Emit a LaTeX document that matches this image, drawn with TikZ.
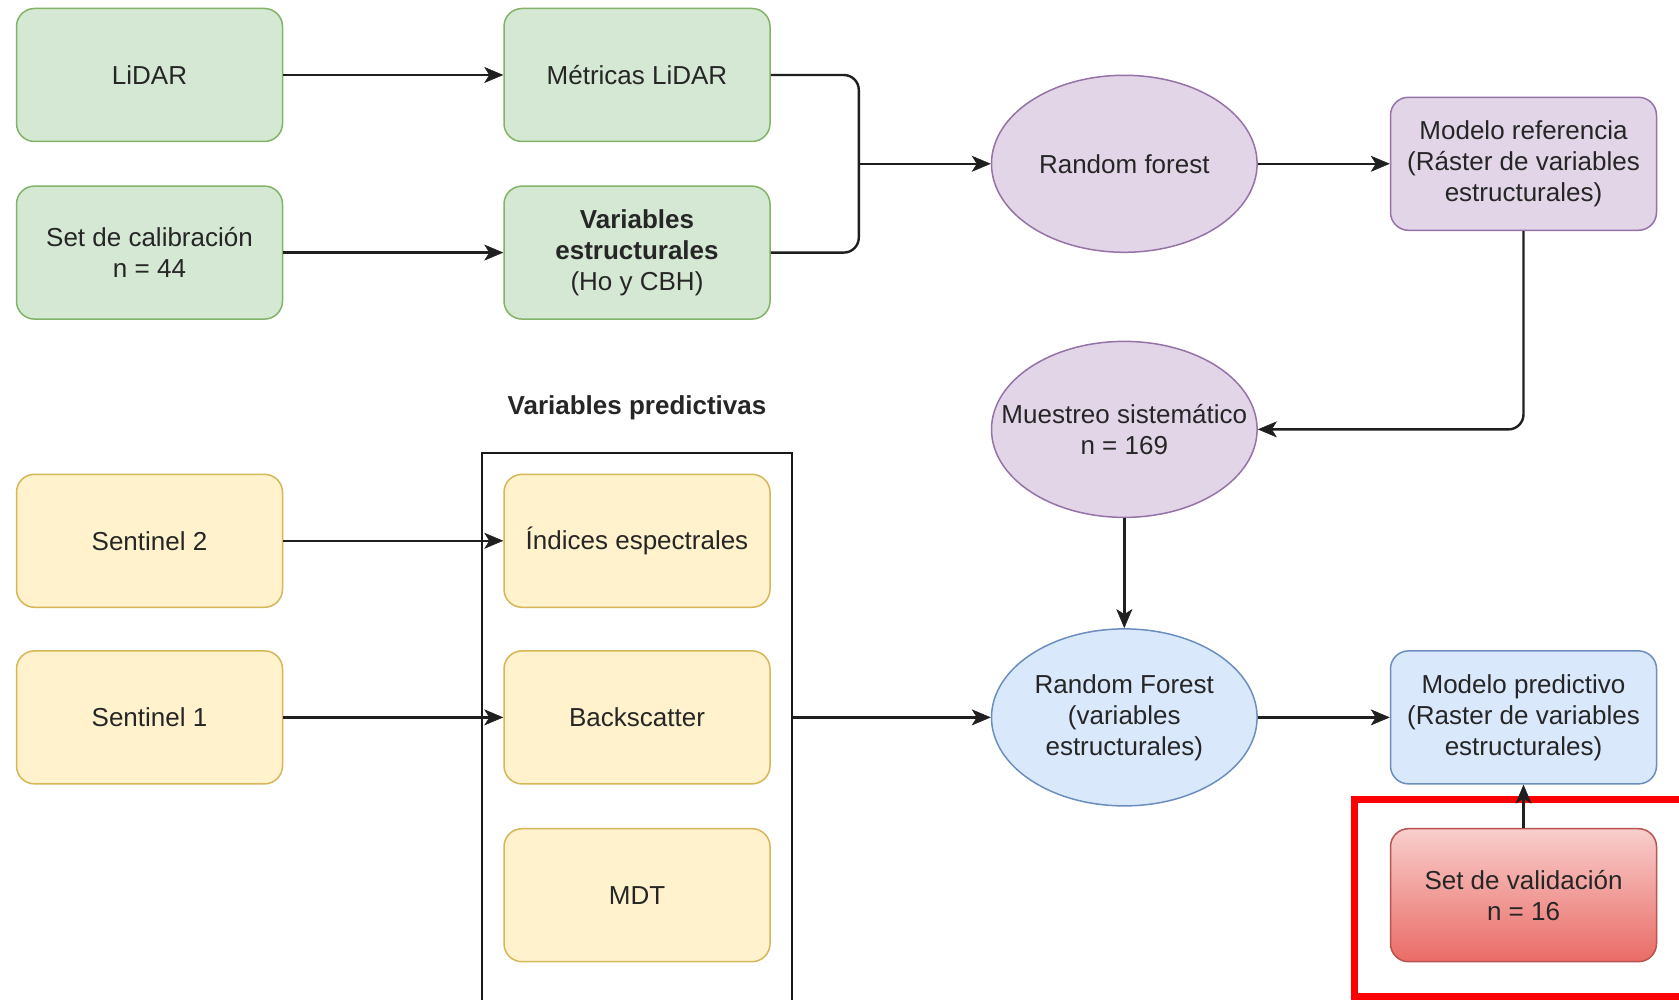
\documentclass[tikz,border=0pt]{standalone}
\usepackage{fontspec}
\setmainfont{Liberation Sans}
\usetikzlibrary{shapes.geometric,arrows.meta}

\definecolor{txt}{HTML}{262626}
\definecolor{verdeF}{HTML}{D5E8D4}\definecolor{verdeB}{HTML}{82B366}
\definecolor{moradoF}{HTML}{E1D5E7}\definecolor{moradoB}{HTML}{9673A6}
\definecolor{amarilloF}{HTML}{FFF2CC}\definecolor{amarilloB}{HTML}{D6B656}
\definecolor{azulF}{HTML}{DAE8FC}\definecolor{azulB}{HTML}{6C8EBF}
\definecolor{rojoA}{HTML}{F8CECC}\definecolor{rojoB}{HTML}{EA6B66}\definecolor{rojoL}{HTML}{B85450}
\definecolor{marcaRoja}{HTML}{FF0000}

\tikzset{
  letra/.style={font=\fontsize{26}{31}\selectfont, text=txt},
  caja/.style={rectangle, rounded corners=18pt, minimum width=266pt, minimum height=133pt,
    inner sep=0pt, align=center, line width=1.5pt, letra},
  verde/.style={caja, fill=verdeF, draw=verdeB},
  morado/.style={caja, fill=moradoF, draw=moradoB},
  amarillo/.style={caja, fill=amarilloF, draw=amarilloB},
  azul/.style={caja, fill=azulF, draw=azulB},
  rojo/.style={caja, top color=rojoA, bottom color=rojoB, draw=rojoL},
  elipse/.style={ellipse, minimum width=265.6pt, minimum height=177pt, inner sep=0pt, line width=1.5pt},
  rotulo/.style={letra, align=center, inner sep=0pt},
  linea/.style={line width=2.4pt, draw=black!88},
  conector/.style={linea, -{Stealth[length=19pt,width=16pt,inset=5pt,line width=0.5pt]}},
}

\begin{document}
\begin{tikzpicture}[x=1pt,y=1pt]
  \useasboundingbox (0,0) rectangle (1679,1000);
  \fill[white] (0,0) rectangle (1679,1000);
  \clip (0,0) rectangle (1679,1000);

  % LiDAR branch
  \node[verde] (lidar) at (149.5,925) {LiDAR};
  \node[verde] (metricas) at (637,925) {Métricas LiDAR};
  \node[verde] (calib) at (149.5,747.4) {Set de calibración\\n = 44};
  \node[verde] (varest) at (637,747.4) {\textbf{Variables}\\\textbf{estructurales}\\(Ho y CBH)};

  % reference model
  \node[elipse, fill=moradoF, draw=moradoB, label={[rotulo]center:Random forest}] (rf1) at (1124.3,836.2) {};
  \node[morado] (ref) at (1523.5,836.2) {Modelo referencia\\(Ráster de variables\\estructurales)};
  \node[elipse, fill=moradoF, draw=moradoB, minimum height=176pt,
        label={[rotulo]center:Muestreo sistemático\\n = 169}] (mues) at (1124.3,570.6) {};

  % predictor variables
  \node[font=\bfseries\fontsize{26}{31}\selectfont, text=txt] (titulo) at (637,592) {Variables predictivas};
  \node[rectangle, draw=black!90, line width=2pt, minimum width=310.5pt, minimum height=607pt,
        inner sep=0pt] (grupo) at (637.15,243.5) {};
  \node[amarillo] (s2) at (149.5,459.2) {Sentinel 2};
  \node[amarillo] (s1) at (149.5,282.6) {Sentinel 1};
  \node[amarillo] (ind) at (637,459.2) {Índices espectrales};
  \node[amarillo] (bs) at (637,282.6) {Backscatter};
  \node[amarillo] (mdt) at (637,104.8) {MDT};

  % predictive model
  \node[elipse, fill=azulF, draw=azulB, label={[rotulo]center:Random Forest\\(variables\\estructurales)}] (rfb) at (1124.3,282.6) {};
  \node[azul] (pred) at (1523.5,282.6) {Modelo predictivo\\(Raster de variables\\estructurales)};
  \node[rojo] (val) at (1523.5,104.8) {Set de validación\\n = 16};

  % highlight frame
  \node[rectangle, draw=marcaRoja, line width=7pt, minimum width=345pt, minimum height=197pt,
        inner sep=0pt] (marca) at (1527,101.5) {};

  % connectors
  \coordinate (union) at (858.8,836.2);
  \draw[conector] (lidar) -- (metricas);
  \draw[conector] (calib) -- (varest);
  \draw[linea, rounded corners=15pt] (metricas.east) -| (union);
  \draw[linea, rounded corners=15pt] (varest.east) -| (union);
  \draw[conector] (union) -- (rf1.west);
  \draw[conector] (rf1) -- (ref);
  \draw[conector, rounded corners=15pt] (ref.south) |- (mues.east);
  \draw[conector] (mues.south) -- (rfb.north);
  \draw[conector] (s2) -- (ind);
  \draw[conector] (s1) -- (bs);
  \draw[conector] (grupo.east |- bs.east) -- (rfb.west);
  \draw[conector] (rfb) -- (pred);
  \draw[conector] (val) -- (pred);
\end{tikzpicture}
\end{document}
